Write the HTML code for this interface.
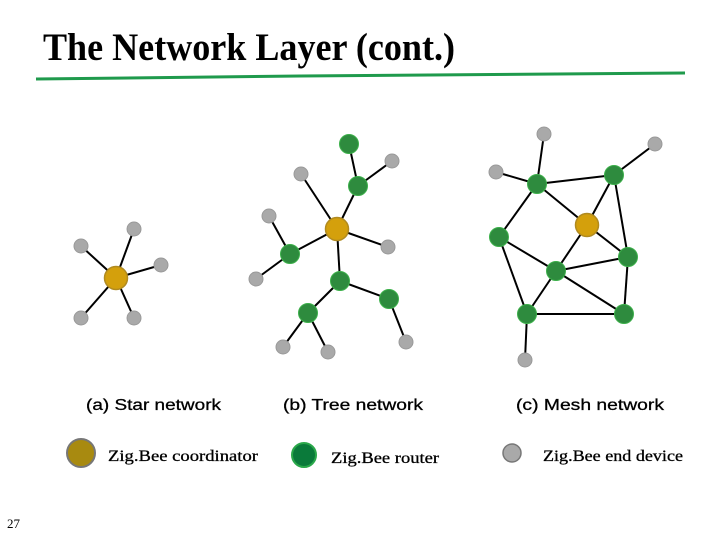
<!DOCTYPE html>
<html><head><style>
body{margin:0;width:720px;height:540px;background:#fff;overflow:hidden;position:relative}
svg{position:absolute;left:0;top:0}
</style></head><body>
<svg width="720" height="540" viewBox="0 0 720 540">
<text x="43" y="60" font-family="Liberation Serif, serif" font-size="39" font-weight="bold" textLength="412" lengthAdjust="spacingAndGlyphs">The Network Layer (cont.)</text>
<path d="M36 79 L300 76 L685 73" stroke="#1f9a4c" stroke-width="3" fill="none"/>
<g stroke="#000" stroke-width="2">
<line x1="116" y1="278" x2="81" y2="246"/><line x1="116" y1="278" x2="134" y2="229"/><line x1="116" y1="278" x2="161" y2="265"/><line x1="116" y1="278" x2="81" y2="318"/><line x1="116" y1="278" x2="134" y2="318"/>
<line x1="349" y1="144" x2="358" y2="186"/><line x1="392" y1="161" x2="358" y2="186"/><line x1="358" y1="186" x2="337" y2="229"/><line x1="301" y1="174" x2="337" y2="229"/><line x1="337" y1="229" x2="290" y2="254"/><line x1="269" y1="216" x2="290" y2="254"/><line x1="290" y1="254" x2="256" y2="279"/><line x1="337" y1="229" x2="388" y2="247"/><line x1="337" y1="229" x2="340" y2="281"/><line x1="340" y1="281" x2="389" y2="299"/><line x1="340" y1="281" x2="308" y2="313"/><line x1="308" y1="313" x2="283" y2="347"/><line x1="308" y1="313" x2="328" y2="352"/><line x1="389" y1="299" x2="406" y2="342"/>
<line x1="544" y1="134" x2="537" y2="184"/><line x1="655" y1="144" x2="614" y2="175"/><line x1="496" y1="172" x2="537" y2="184"/><line x1="537" y1="184" x2="614" y2="175"/><line x1="537" y1="184" x2="587" y2="225"/><line x1="614" y1="175" x2="587" y2="225"/><line x1="614" y1="175" x2="628" y2="257"/><line x1="537" y1="184" x2="499" y2="237"/><line x1="499" y1="237" x2="556" y2="271"/><line x1="499" y1="237" x2="527" y2="314"/><line x1="587" y1="225" x2="556" y2="271"/><line x1="587" y1="225" x2="628" y2="257"/><line x1="556" y1="271" x2="628" y2="257"/><line x1="556" y1="271" x2="527" y2="314"/><line x1="556" y1="271" x2="624" y2="314"/><line x1="527" y1="314" x2="624" y2="314"/><line x1="628" y1="257" x2="624" y2="314"/><line x1="527" y1="314" x2="525" y2="360"/>
</g>
<g fill="#a9a9a9" stroke="#999" stroke-width="1">
<circle cx="81" cy="246" r="7"/><circle cx="134" cy="229" r="7"/><circle cx="161" cy="265" r="7"/><circle cx="81" cy="318" r="7"/><circle cx="134" cy="318" r="7"/>
<circle cx="392" cy="161" r="7"/><circle cx="301" cy="174" r="7"/><circle cx="269" cy="216" r="7"/><circle cx="256" cy="279" r="7"/><circle cx="388" cy="247" r="7"/><circle cx="283" cy="347" r="7"/><circle cx="328" cy="352" r="7"/><circle cx="406" cy="342" r="7"/>
<circle cx="544" cy="134" r="7"/><circle cx="655" cy="144" r="7"/><circle cx="496" cy="172" r="7"/><circle cx="525" cy="360" r="7"/>
</g>
<g fill="#2e8b3e" stroke="#3cb04a" stroke-width="1">
<circle cx="349" cy="144" r="9.5"/><circle cx="358" cy="186" r="9.5"/><circle cx="290" cy="254" r="9.5"/><circle cx="340" cy="281" r="9.5"/><circle cx="389" cy="299" r="9.5"/><circle cx="308" cy="313" r="9.5"/>
<circle cx="537" cy="184" r="9.5"/><circle cx="614" cy="175" r="9.5"/><circle cx="499" cy="237" r="9.5"/><circle cx="628" cy="257" r="9.5"/><circle cx="556" cy="271" r="9.5"/><circle cx="527" cy="314" r="9.5"/><circle cx="624" cy="314" r="9.5"/>
</g>
<g fill="#d4a00c" stroke="#b08a20" stroke-width="1.5">
<circle cx="116" cy="278" r="11.5"/><circle cx="337" cy="229" r="11.5"/><circle cx="587" cy="225" r="11.5"/>
</g>
<g font-family="Liberation Sans, sans-serif" font-size="16" stroke="#000" stroke-width="0.3">
<text x="86" y="410" textLength="135" lengthAdjust="spacingAndGlyphs">(a) Star network</text>
<text x="283" y="410" textLength="140" lengthAdjust="spacingAndGlyphs">(b) Tree network</text>
<text x="516" y="410" textLength="148" lengthAdjust="spacingAndGlyphs">(c) Mesh network</text>
</g>
<circle cx="81" cy="453" r="14" fill="#a88a10" stroke="#777" stroke-width="2"/>
<circle cx="304" cy="455" r="12" fill="#0a7a3a" stroke="#2aa84a" stroke-width="2"/>
<circle cx="512" cy="453" r="9" fill="#a9a9a9" stroke="#777" stroke-width="1.5"/>
<g font-family="Liberation Serif, serif" font-size="16" stroke="#000" stroke-width="0.3">
<text x="108" y="461" textLength="150" lengthAdjust="spacingAndGlyphs">Zig.Bee coordinator</text>
<text x="331" y="463" textLength="108" lengthAdjust="spacingAndGlyphs">Zig.Bee router</text>
<text x="543" y="461" textLength="140" lengthAdjust="spacingAndGlyphs">Zig.Bee end device</text>
</g>
<text x="7" y="528" font-family="Liberation Serif, serif" font-size="13">27</text>
</svg>
</body></html>
